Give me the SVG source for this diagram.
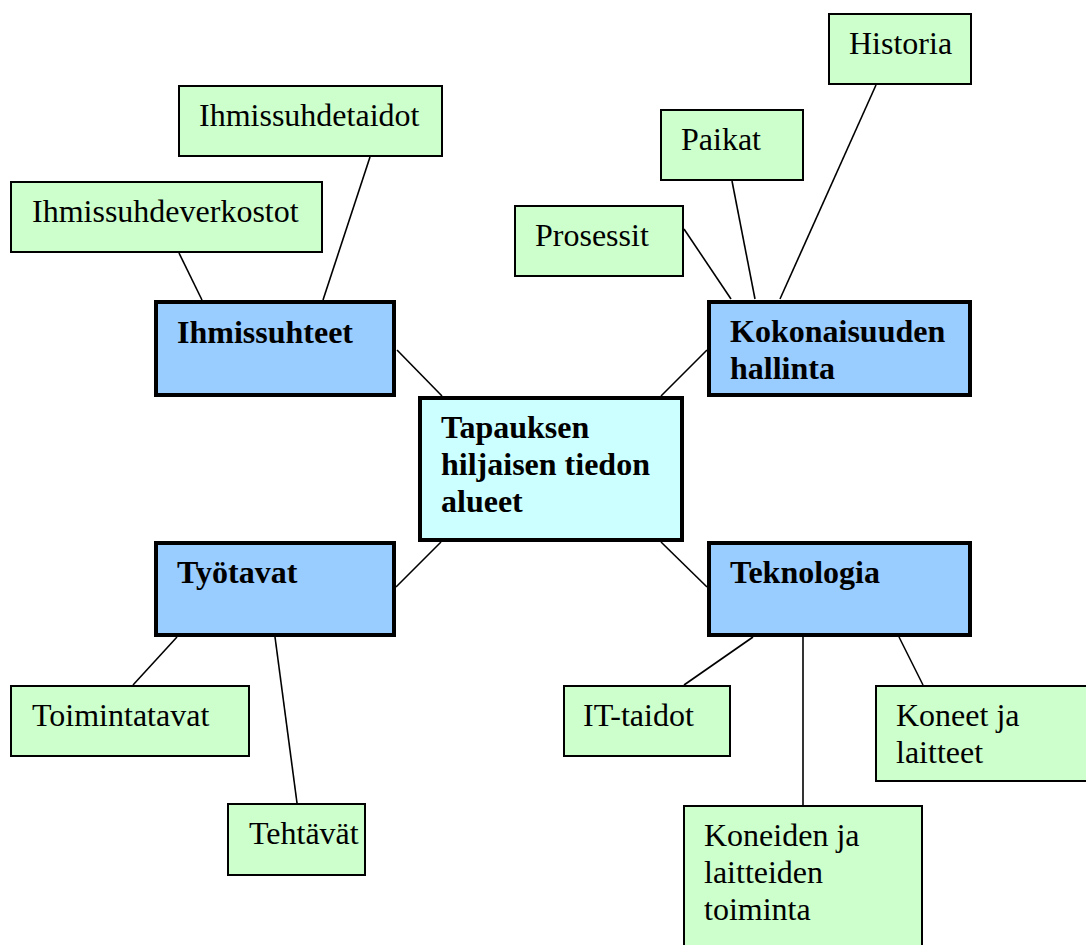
<svg xmlns="http://www.w3.org/2000/svg" width="1086" height="945" viewBox="0 0 1086 945">
  <style>
    .leaf { fill: #CCFFCC; stroke: #000; stroke-width: 2; }
    .area { fill: #99CCFF; stroke: #000; stroke-width: 4; }
    .core { fill: #CCFFFF; stroke: #000; stroke-width: 4; }
    .edge { stroke: #000; stroke-width: 1.6; fill: none; }
    text { font-family: 'Liberation Serif', Tinos, 'Times New Roman', 'DejaVu Serif', serif; font-size: 32px; fill: #000; }
    .bold { font-weight: bold; }
  </style>
  <rect width="1086" height="945" fill="#fff"/>

  <!-- connectors -->
  <g id="connectors">
    <line class="edge" x1="179" y1="253" x2="202" y2="300"/>
    <line class="edge" x1="370" y1="157" x2="323" y2="300"/>
    <line class="edge" x1="397" y1="350" x2="442" y2="396"/>
    <line class="edge" x1="684" y1="229" x2="731" y2="299"/>
    <line class="edge" x1="732" y1="181" x2="755" y2="299"/>
    <line class="edge" x1="876" y1="85" x2="780" y2="299"/>
    <line class="edge" x1="707" y1="350" x2="661" y2="396"/>
    <line class="edge" x1="441" y1="542" x2="396" y2="587"/>
    <line class="edge" x1="661" y1="542" x2="707" y2="587"/>
    <line class="edge" x1="177" y1="637" x2="133" y2="685"/>
    <line class="edge" x1="275" y1="637" x2="297" y2="803"/>
    <line class="edge" x1="753" y1="637" x2="684" y2="685"/>
    <line class="edge" x1="803" y1="637" x2="803" y2="805"/>
    <line class="edge" x1="899" y1="637" x2="923" y2="685"/>
  </g>

  <!-- central node -->
  <g id="center">
    <rect class="core" x="420" y="398" width="262" height="142"/>
    <text class="bold" font-family="Liberation Serif" x="441" y="438">Tapauksen</text>
    <text class="bold" font-family="Liberation Serif" x="441" y="475">hiljaisen tiedon</text>
    <text class="bold" font-family="Liberation Serif" x="441" y="512">alueet</text>
  </g>

  <!-- main areas -->
  <g id="ihmissuhteet">
    <rect class="area" x="156" y="302" width="238" height="93"/>
    <text class="bold" x="177" y="343">Ihmissuhteet</text>
  </g>
  <g id="kokonaisuuden-hallinta">
    <rect class="area" x="709" y="302" width="261" height="93"/>
    <text class="bold" x="730" y="342">Kokonaisuuden</text>
    <text class="bold" x="730" y="379">hallinta</text>
  </g>
  <g id="tyotavat">
    <rect class="area" x="156" y="543" width="238" height="92"/>
    <text class="bold" x="177" y="583">Työtavat</text>
  </g>
  <g id="teknologia">
    <rect class="area" x="709" y="543" width="261" height="92"/>
    <text class="bold" x="730" y="583">Teknologia</text>
  </g>

  <!-- leaves -->
  <g id="ihmissuhdetaidot">
    <rect class="leaf" x="179" y="86" width="263" height="70"/>
    <text x="199" y="126">Ihmissuhdetaidot</text>
  </g>
  <g id="ihmissuhdeverkostot">
    <rect class="leaf" x="11" y="182" width="311" height="70"/>
    <text x="32" y="222">Ihmissuhdeverkostot</text>
  </g>
  <g id="historia">
    <rect class="leaf" x="829" y="14" width="142" height="70"/>
    <text x="849" y="54">Historia</text>
  </g>
  <g id="paikat">
    <rect class="leaf" x="661" y="110" width="142" height="70"/>
    <text x="681" y="150">Paikat</text>
  </g>
  <g id="prosessit">
    <rect class="leaf" x="515" y="206" width="168" height="70"/>
    <text x="535" y="246">Prosessit</text>
  </g>
  <g id="toimintatavat">
    <rect class="leaf" x="11" y="686" width="238" height="70"/>
    <text x="32" y="726">Toimintatavat</text>
  </g>
  <g id="tehtavat">
    <rect class="leaf" x="228" y="804" width="137" height="71"/>
    <text x="249" y="844">Tehtävät</text>
  </g>
  <g id="it-taidot">
    <rect class="leaf" x="564" y="686" width="166" height="70"/>
    <text x="583" y="726">IT-taidot</text>
  </g>
  <g id="koneet-ja-laitteet">
    <rect class="leaf" x="876" y="686" width="230" height="95"/>
    <text x="896" y="726">Koneet ja</text>
    <text x="896" y="763">laitteet</text>
  </g>
  <g id="koneiden-ja-laitteiden-toiminta">
    <rect class="leaf" x="684" y="806" width="238" height="170"/>
    <text x="704" y="846">Koneiden ja</text>
    <text x="704" y="883">laitteiden</text>
    <text x="704" y="920">toiminta</text>
  </g>
</svg>
